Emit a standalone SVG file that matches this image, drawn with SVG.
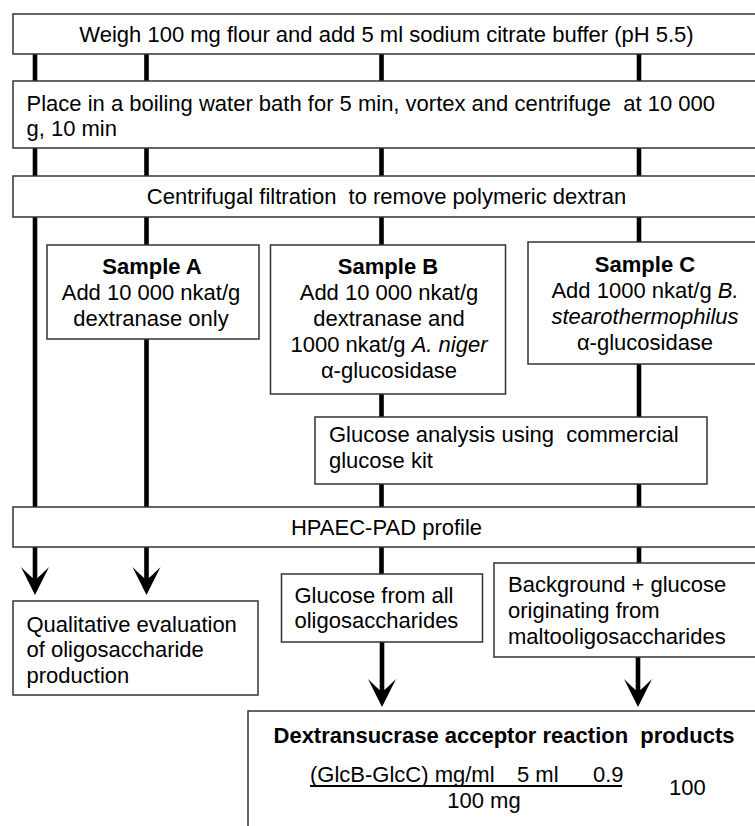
<svg xmlns="http://www.w3.org/2000/svg" xmlns:xlink="http://www.w3.org/1999/xlink" width="755" height="826" viewBox="0 0 755 826">
<style>
.box{fill:#fff;stroke:#333;stroke-width:1.5}
.t{font-family:"Liberation Sans",Arial,sans-serif;font-size:22px;fill:#000}
.c{text-anchor:middle}
.b{font-weight:bold}
.i{font-style:italic}
.ln{stroke:#000;stroke-width:4.6;fill:none}
</style>
<defs>
<path id="ah" d="M0,0 L-14,-28 Q-6,-20 0,-15 Q6,-20 14,-28 Z" fill="#000"/>
</defs>
<rect width="755" height="826" fill="#fff"/>
<g id="connectors">
<path class="ln" d="M35,54V81M146.5,54V81M381.5,54V81M639,54V81"/>
<path class="ln" d="M35,148V176M146.5,148V176M381.5,148V176M639,148V176"/>
<path class="ln" d="M35,217V507M146.5,217V245M146.5,339V507M381.5,217V245M639,217V242"/>
<path class="ln" d="M381.5,394V417M639,364V417M381.5,484V507M639,484V507"/>
<path class="ln" d="M35,547V582M146.5,547V582M381.5,547V574M639,547V563"/>
<path class="ln" d="M382,642V694M638,657V694"/>
<use xlink:href="#ah" x="35" y="595"/>
<use xlink:href="#ah" x="146.5" y="595"/>
<use xlink:href="#ah" x="382" y="707"/>
<use xlink:href="#ah" x="638" y="707"/>
</g>
<g id="n1"><rect class="box" x="13" y="14" width="750" height="40"/>
<text class="t c" x="386.5" y="42">Weigh 100 mg flour and add 5 ml sodium citrate buffer (pH 5.5)</text></g>
<g id="n2"><rect class="box" x="13" y="81" width="750" height="67"/>
<text class="t" x="26.5" y="111" xml:space="preserve">Place in a boiling water bath for 5 min, vortex and centrifuge  at 10 000</text>
<text class="t" x="26.5" y="136">g, 10 min</text></g>
<g id="n3"><rect class="box" x="13" y="176" width="750" height="41"/>
<text class="t c" x="386.5" y="204" xml:space="preserve">Centrifugal filtration  to remove polymeric dextran</text></g>
<g id="nA"><rect class="box" x="47" y="245" width="212" height="94"/>
<text class="t c b" x="152" y="274">Sample A</text>
<text class="t c" x="151" y="300">Add 10 000 nkat/g</text>
<text class="t c" x="151" y="326">dextranase only</text></g>
<g id="nB"><rect class="box" x="270.5" y="245" width="235" height="149"/>
<text class="t c b" x="388" y="274">Sample B</text>
<text class="t c" x="389" y="300">Add 10 000 nkat/g</text>
<text class="t c" x="389" y="326">dextranase and</text>
<text class="t c" x="389" y="352">1000 nkat/g <tspan class="i">A. niger</tspan></text>
<text class="t c" x="389" y="378">α-glucosidase</text></g>
<g id="nC"><rect class="box" x="528" y="242" width="235" height="122"/>
<text class="t c b" x="645" y="272">Sample C</text>
<text class="t c" x="645" y="298">Add 1000 nkat/g <tspan class="i">B.</tspan></text>
<text class="t c i" x="645" y="324">stearothermophilus</text>
<text class="t c" x="645" y="350">α-glucosidase</text></g>
<g id="nG"><rect class="box" x="315" y="417" width="392" height="67"/>
<text class="t" x="329" y="442" xml:space="preserve">Glucose analysis using  commercial</text>
<text class="t" x="329" y="468">glucose kit</text></g>
<g id="nH"><rect class="box" x="13" y="507" width="750" height="40"/>
<text class="t c" x="386.5" y="535">HPAEC-PAD profile</text></g>
<g id="nQ"><rect class="box" x="13" y="601" width="245" height="94"/>
<text class="t" x="26.5" y="632">Qualitative evaluation</text>
<text class="t" x="26.5" y="657">of oligosaccharide</text>
<text class="t" x="26.5" y="683">production</text></g>
<g id="nGA"><rect class="box" x="281.5" y="574" width="201" height="68"/>
<text class="t" x="294.5" y="603">Glucose from all</text>
<text class="t" x="294.5" y="628">oligosaccharides</text></g>
<g id="nBG"><rect class="box" x="494" y="563" width="270" height="94"/>
<text class="t" x="508" y="592">Background + glucose</text>
<text class="t" x="508" y="618">originating from</text>
<text class="t" x="508" y="644">maltooligosaccharides</text></g>
<g id="nD"><rect class="box" x="248" y="711" width="520" height="130"/>
<text class="t c b" x="504" y="743" xml:space="preserve">Dextransucrase acceptor reaction  products</text>
<text class="t" y="782"><tspan x="310">(GlcB-GlcC) mg/ml</tspan><tspan x="517">5 ml</tspan><tspan x="593">0.9</tspan></text>
<line x1="310" y1="786" x2="622" y2="786" stroke="#000" stroke-width="2"/>
<text class="t c" x="484" y="808">100 mg</text>
<text class="t" x="669" y="795">100</text></g>
</svg>
